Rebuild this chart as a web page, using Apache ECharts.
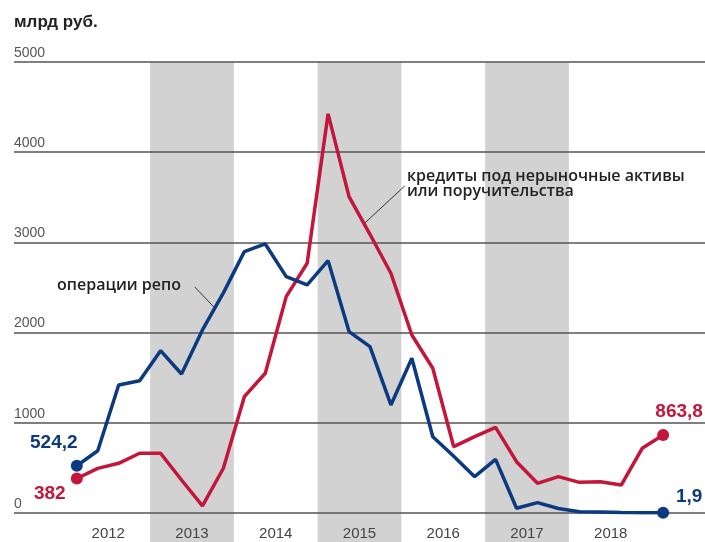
<!DOCTYPE html>
<html>
<head>
<meta charset="utf-8">
<script src="https://cdn.jsdelivr.net/npm/echarts@6/dist/echarts.min.js"></script>
<style>
  html, body { margin: 0; padding: 0; background: #fff; }
  #chart { width: 705px; height: 542px; }
</style>
</head>
<body>
<div id="chart"></div>
<script>
// quarterly points, Q1 2012 .. Q1 2019
const repo = [524.2, 690, 1420, 1467, 1800, 1541, 2030, 2440, 2898, 2983, 2621, 2528, 2798, 2011,
  1845, 1198, 1716, 846, 630, 403, 595, 52, 115, 50, 15, 10, 5, 4, 1.9]
const credits = [382, 495, 551, 662, 662, 366, 78, 496, 1290, 1549, 2399, 2769, 4425, 3508,
  3090, 2658, 1974, 1605, 735, 846, 950, 569, 329, 403, 340, 347, 310, 717, 863.8]
const years = ['2012', '2013', '2014', '2015', '2016', '2017', '2018']
const shadedYears = ['2013', '2015', '2017']
const yTicks = [0, 1000, 2000, 3000, 4000, 5000]

const navy = '#0c3a80'
const red = '#c4163a'
const font = '"Liberation Sans", Arial, sans-serif'
const noteFont = '"Open Sans", "Liberation Sans", sans-serif'

// x is quarter index from Q1 2012
const yearStart = y => (Number(y) - 2012) * 4 - 0.5
const fmt = v => String(v).replace('.', ',')

const lastIdx = repo.length - 1

function endLabel(color, offset) {
  return {
    show: true,
    position: 'inside',
    offset: offset,
    formatter: p => fmt(p.value[1]),
    color: color,
    fontFamily: font,
    fontSize: 19,
    fontWeight: 'bold'
  }
}

function toPoints(values, color, offFirst, offLast) {
  return values.map((v, i) => {
    const item = { value: [i, v] }
    if (i === 0) item.label = endLabel(color, offFirst)
    if (i === lastIdx) item.label = endLabel(color, offLast)
    return item
  })
}

const chart = echarts.init(document.getElementById('chart'))

chart.setOption({
  animation: false,
  grid: [
    { left: 14, right: 0, top: 62, bottom: 29 },
    { left: 14, right: 0, top: 62, bottom: 0 }
  ],
  xAxis: [
    {
      type: 'value', gridIndex: 0, min: -3, max: 30, z: 3,
      axisLine: { show: false }, axisTick: { show: false }, splitLine: { show: false },
      axisLabel: {
        customValues: years.map((y, i) => i * 4 + 1.5),
        formatter: v => years[Math.round((v - 1.5) / 4)],
        margin: 13, color: '#444', fontFamily: font, fontSize: 15
      }
    },
    { type: 'value', gridIndex: 1, min: -3, max: 30, show: false }
  ],
  yAxis: [
    {
      type: 'value', gridIndex: 0, min: 0, max: 5000, interval: 1000, z: 3,
      axisLine: { show: false }, axisTick: { show: false },
      splitLine: { lineStyle: { color: '#555', width: 1.5 } },
      axisLabel: {
        inside: true, margin: 0, align: 'left', verticalAlign: 'bottom',
        padding: [0, 0, 2, 0],
        customValues: yTicks,
        formatter: v => String(v),
        color: '#555', fontFamily: font, fontSize: 14
      }
    },
    { type: 'value', gridIndex: 1, min: 0, max: 1, show: false }
  ],
  graphic: [
    {
      type: 'text', left: 14, top: 14, z: 100,
      style: { text: 'млрд руб.', font: 'bold 17px ' + font, fill: '#222' }
    },
    {
      type: 'text', left: 57, top: 277, z: 100,
      style: { text: 'операции репо', font: '600 16px ' + noteFont, fill: '#222' }
    },
    {
      type: 'text', left: 407, top: 168, z: 100,
      style: { text: 'кредиты под нерыночные активы\nили поручительства', font: '600 16px ' + noteFont,
        lineHeight: 15, fill: '#222' }
    }
  ],
  series: [
    {
      name: 'bands', type: 'line', xAxisIndex: 1, yAxisIndex: 1, z: 0,
      data: [[-3, 0]], symbol: 'none', lineStyle: { opacity: 0 }, silent: true,
      markArea: {
        silent: true,
        itemStyle: { color: '#d2d2d2' },
        data: shadedYears.map(y => [{ xAxis: yearStart(y) }, { xAxis: yearStart(y) + 4 }])
      }
    },
    {
      name: 'кредиты под нерыночные активы или поручительства', type: 'line', z: 5,
      data: toPoints(credits, red, [-27, 15], [16, -23]),
      symbol: 'circle',
      symbolSize: (v, p) => (p.dataIndex === 0 || p.dataIndex === lastIdx ? 12 : 0),
      itemStyle: { color: red },
      lineStyle: { color: red, width: 3.5 },
      markLine: {
        silent: true, symbol: 'none', label: { show: false },
        lineStyle: { color: '#333', width: 1, type: 'solid' },
        data: [[{ coord: [15.66, 3626] }, { coord: [13.66, 3194] }]]
      }
    },
    {
      name: 'операции репо', type: 'line', z: 6,
      data: toPoints(repo, navy, [-23, -23], [26, -16]),
      symbol: 'circle',
      symbolSize: (v, p) => (p.dataIndex === 0 || p.dataIndex === lastIdx ? 12 : 0),
      itemStyle: { color: navy },
      lineStyle: { color: navy, width: 3.5 },
      markLine: {
        silent: true, symbol: 'none', label: { show: false },
        lineStyle: { color: '#333', width: 1, type: 'solid' },
        data: [[{ coord: [5.63, 2506] }, { coord: [6.59, 2273] }]]
      }
    }
  ]
})
</script>
</body>
</html>
